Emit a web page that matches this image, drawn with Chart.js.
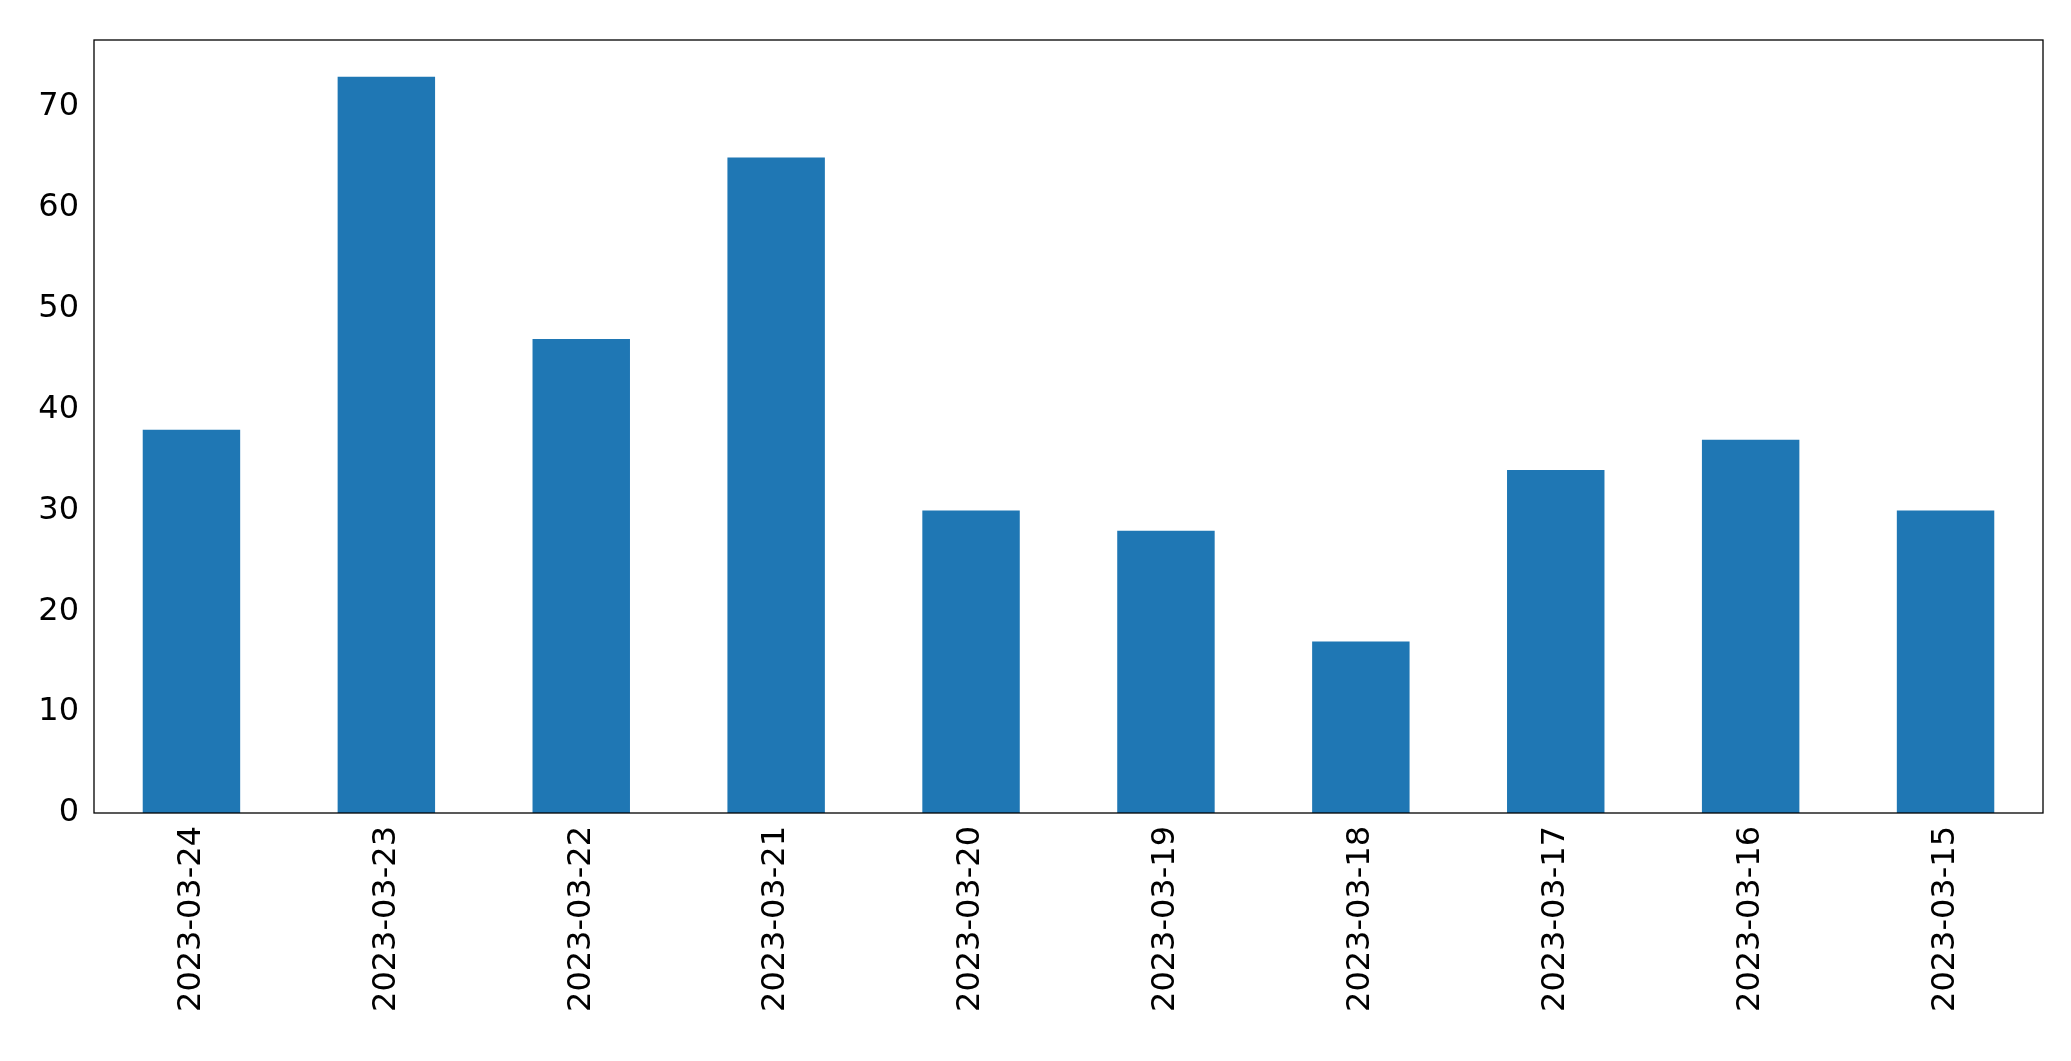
<!DOCTYPE html>
<html><head><meta charset="utf-8">
<script src="https://cdn.jsdelivr.net/npm/chart.js@4"></script>
<style>html,body{margin:0;padding:0;background:#fff}#w{width:2071px;height:1061px}</style>
</head><body><div id="w"><canvas id="c"></canvas></div>
<script>
const categories = ["2023-03-24","2023-03-23","2023-03-22","2023-03-21","2023-03-20","2023-03-19","2023-03-18","2023-03-17","2023-03-16","2023-03-15"];
const values = [38,73,47,65,30,28,17,34,37,30];
const yTicks = [0,10,20,30,40,50,60,70];

const frame = {id:'frame', afterDraw(c){const a=c.chartArea,x=c.ctx;x.save();x.strokeStyle='#000';x.lineWidth=1.3;x.strokeRect(a.left,a.top,a.right-a.left,a.bottom-a.top);x.restore();}};
new Chart(document.getElementById('c'), {
  type:'bar',
  data:{labels:categories,datasets:[{data:values,backgroundColor:'#1f77b4',barPercentage:0.5,categoryPercentage:1}]},
  options:{
    responsive:true,maintainAspectRatio:false,animation:false,
    layout:{padding:{top:40,right:28,left:0,bottom:0}},
    plugins:{legend:{display:false},tooltip:{enabled:false}},
    scales:{
      x:{grid:{display:false,drawTicks:true,tickLength:9,tickColor:'#000'},border:{display:false},
         ticks:{color:'#000',font:{family:'DejaVu Sans',size:32},maxRotation:90,minRotation:90,padding:4},
         afterFit(s){s.height=248;}},
      y:{min:0,max:76.65,grid:{display:false,drawTicks:true,tickLength:9,tickColor:'#000'},border:{display:false},
         afterBuildTicks(s){s.ticks=yTicks.map(v=>({value:v}));},
         ticks:{color:'#000',font:{family:'DejaVu Sans',size:32},padding:6},
         afterFit(s){s.width=94;}}
    }
  },
  plugins:[frame]
});
</script></body></html>
